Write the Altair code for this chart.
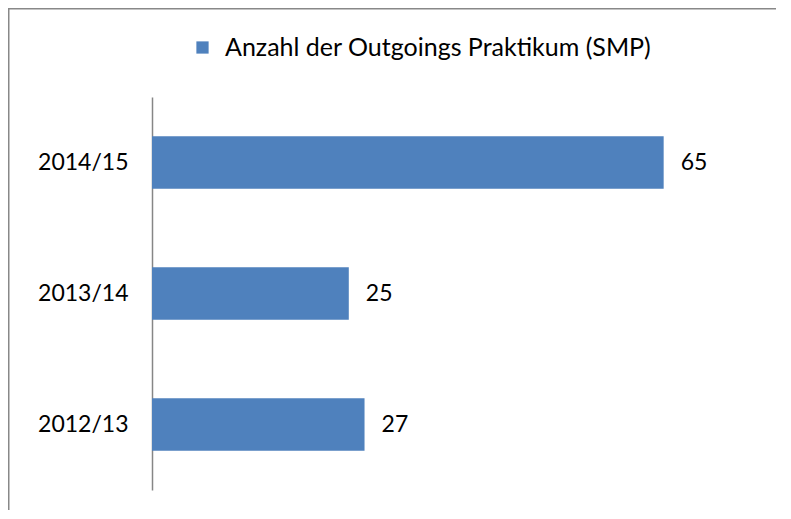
import altair as alt
import pandas as pd

years = ["2014/15", "2013/14", "2012/13"]
values = [65, 25, 27]
series = "Anzahl der Outgoings Praktikum (SMP)"

df = pd.DataFrame({"Jahr": years, "Anzahl": values, "Serie": [series] * 3})

FONT = "Lato"
FS = 23
W, H = 614, 393
PL, PT = 144, 89

base = alt.Chart(df)

y_enc = alt.Y("Jahr:N", sort=years,
              scale=alt.Scale(paddingInner=0.6, paddingOuter=0.3),
              axis=alt.Axis(title=None, ticks=False, labelPadding=24, labelFontSize=FS,
                            labelFont=FONT, labelColor="black", domainColor="#868686",
                            domainWidth=1.5, grid=False))

bars = base.mark_bar(color="#4F81BD").encode(
    x=alt.X("Anzahl:Q", scale=alt.Scale(domain=[0, 78], nice=False), axis=None),
    y=y_enc,
    color=alt.Color("Serie:N", scale=alt.Scale(range=["#4F81BD"]),
                    legend=alt.Legend(title=None, orient="none", legendX=38, legendY=-62,
                                      symbolType="square", symbolSize=150, labelLimit=0,
                                      labelOffset=10,
                                      labelFontSize=25, labelFont=FONT, labelColor="black",
                                      symbolStrokeWidth=0)),
)

labels = base.mark_text(align="left", dx=17, fontSize=FS, font=FONT, color="black").encode(
    x=alt.X("Anzahl:Q"),
    y=alt.Y("Jahr:N", sort=years),
    text=alt.Text("Anzahl:Q"),
)

border_left = alt.Chart(pd.DataFrame({"a": [0]})).mark_rule(color="#888888", strokeWidth=1.5).encode(
    x=alt.value(-PL + 0.75), x2=alt.value(-PL + 0.75), y=alt.value(-PT), y2=alt.value(H + 20))
border_top = alt.Chart(pd.DataFrame({"a": [0]})).mark_rule(color="#888888", strokeWidth=1.5).encode(
    x=alt.value(-PL), x2=alt.value(W + 10), y=alt.value(-PT + 0.75), y2=alt.value(-PT + 0.75))

chart = alt.layer(border_left, border_top, bars, labels).properties(
    width=W, height=H,
    padding={"left": PL, "top": PT, "right": 10, "bottom": 20},
    autosize=alt.AutoSizeParams(type="none"),
).configure_view(stroke=None)

chart.save("out.html", embed_options={"renderer": "svg", "actions": False})
